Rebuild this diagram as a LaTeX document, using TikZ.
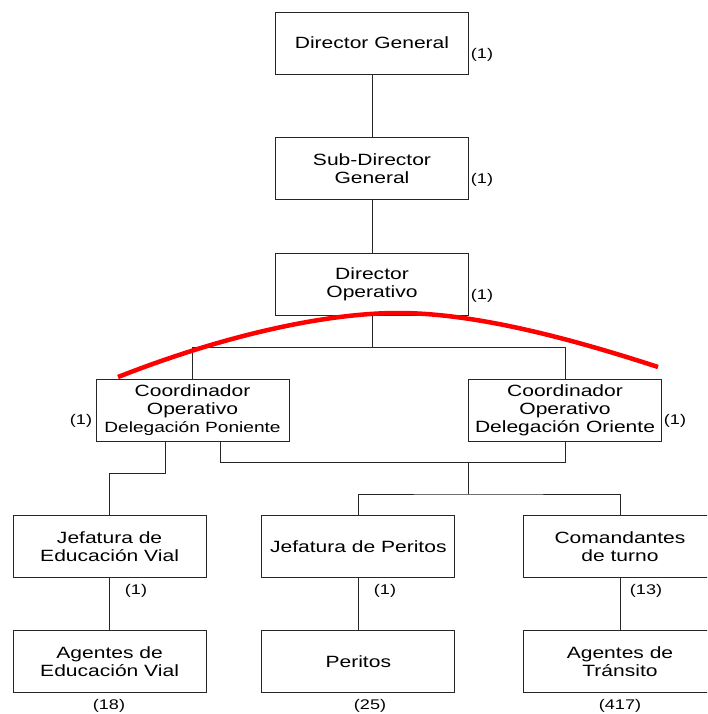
\documentclass[tikz,border=0pt]{standalone}
\usepackage{fontspec}
\setmainfont{Liberation Sans}[FakeStretch=1.29]
\begin{document}
\begin{tikzpicture}[x=1pt,y=-1pt,
  box/.style={draw=black!85, line width=0.9pt, rectangle, minimum width=193pt, minimum height=62pt, inner sep=0pt, align=center, font=\fontsize{16.3}{18}\selectfont},
  cnt/.style={inner sep=0pt, font=\fontsize{14}{16}\selectfont},
  link/.style={draw=black!85, line width=0.9pt},
  redline/.style={draw=red, line width=4.5pt}
]
\clip (0,0) rectangle (707,714);
\fill[white] (0,0) rectangle (707,714);

\node[box] (dg) at (372,43) {Director General};
\node[box] (sdg) at (372,168.5) {Sub-Director\\General};
\node[box] (do) at (372,284) {Director\\Operativo};
\node[box] (cp) at (192.5,410) {Coordinador\\Operativo\\{\fontsize{14.8}{18}\selectfont Delegación Poniente}};
\node[box] (co) at (565,410) {Coordinador\\Operativo\\Delegación Oriente};
\node[box] (jev) at (109.6,546.5) {Jefatura de\\Educación Vial};
\node[box] (jp) at (358.3,546.5) {Jefatura de Peritos};
\node[box] (com) at (620,546.5) {Comandantes\\de turno};
\node[box] (agev) at (109.6,661.5) {Agentes de\\Educación Vial};
\node[box] (per) at (358.3,661.5) {Peritos};
\node[box] (at) at (620,661.5) {Agentes de\\Tránsito};

\node[cnt] (n1) at (482,55) {(1)};
\node[cnt] (n2) at (482,180) {(1)};
\node[cnt] (n3) at (482,296) {(1)};
\node[cnt] (n4) at (81,421) {(1)};
\node[cnt] (n5) at (675,421) {(1)};
\node[cnt] (n6) at (136,591) {(1)};
\node[cnt] (n7) at (385,591) {(1)};
\node[cnt] (n8) at (646,591) {(13)};
\node[cnt] (n9) at (109,706) {(18)};
\node[cnt] (n10) at (370,706) {(25)};
\node[cnt] (n11) at (620,706) {(417)};

\coordinate (t) at (372,347.7);
\coordinate (j1) at (165,473);
\coordinate (j2) at (220,462);
\coordinate (j3) at (468,462);
\coordinate (j4) at (468,494);

\draw[link] (dg.south) -- (sdg.north);
\draw[link] (sdg.south) -- (do.north);
\draw[link] (do.south) -- (t);
\draw[link] (cp.north) |- (t) -| (co.north);
\draw[link] (j1 |- cp.south) -- (j1) -| (jev.north);
\draw[link] (j2 |- cp.south) -- (j2) -| (co.south);
\draw[link] (j3) -- (j4);
\draw[link] (jp.north) |- (j4) -| (com.north);
\draw[link] (jev.south) -- (agev.north);
\draw[link] (jp.south) -- (per.north);
\draw[link] (com.south) -- (at.north);

\coordinate (r0) at (118,377);
\coordinate (r1) at (398,313);
\coordinate (r2) at (658,367);
\draw[redline] (r0) .. controls (230,333) and (330,313) .. (r1)
  .. controls (470,313) and (560,335) .. (r2);
\end{tikzpicture}
\end{document}
